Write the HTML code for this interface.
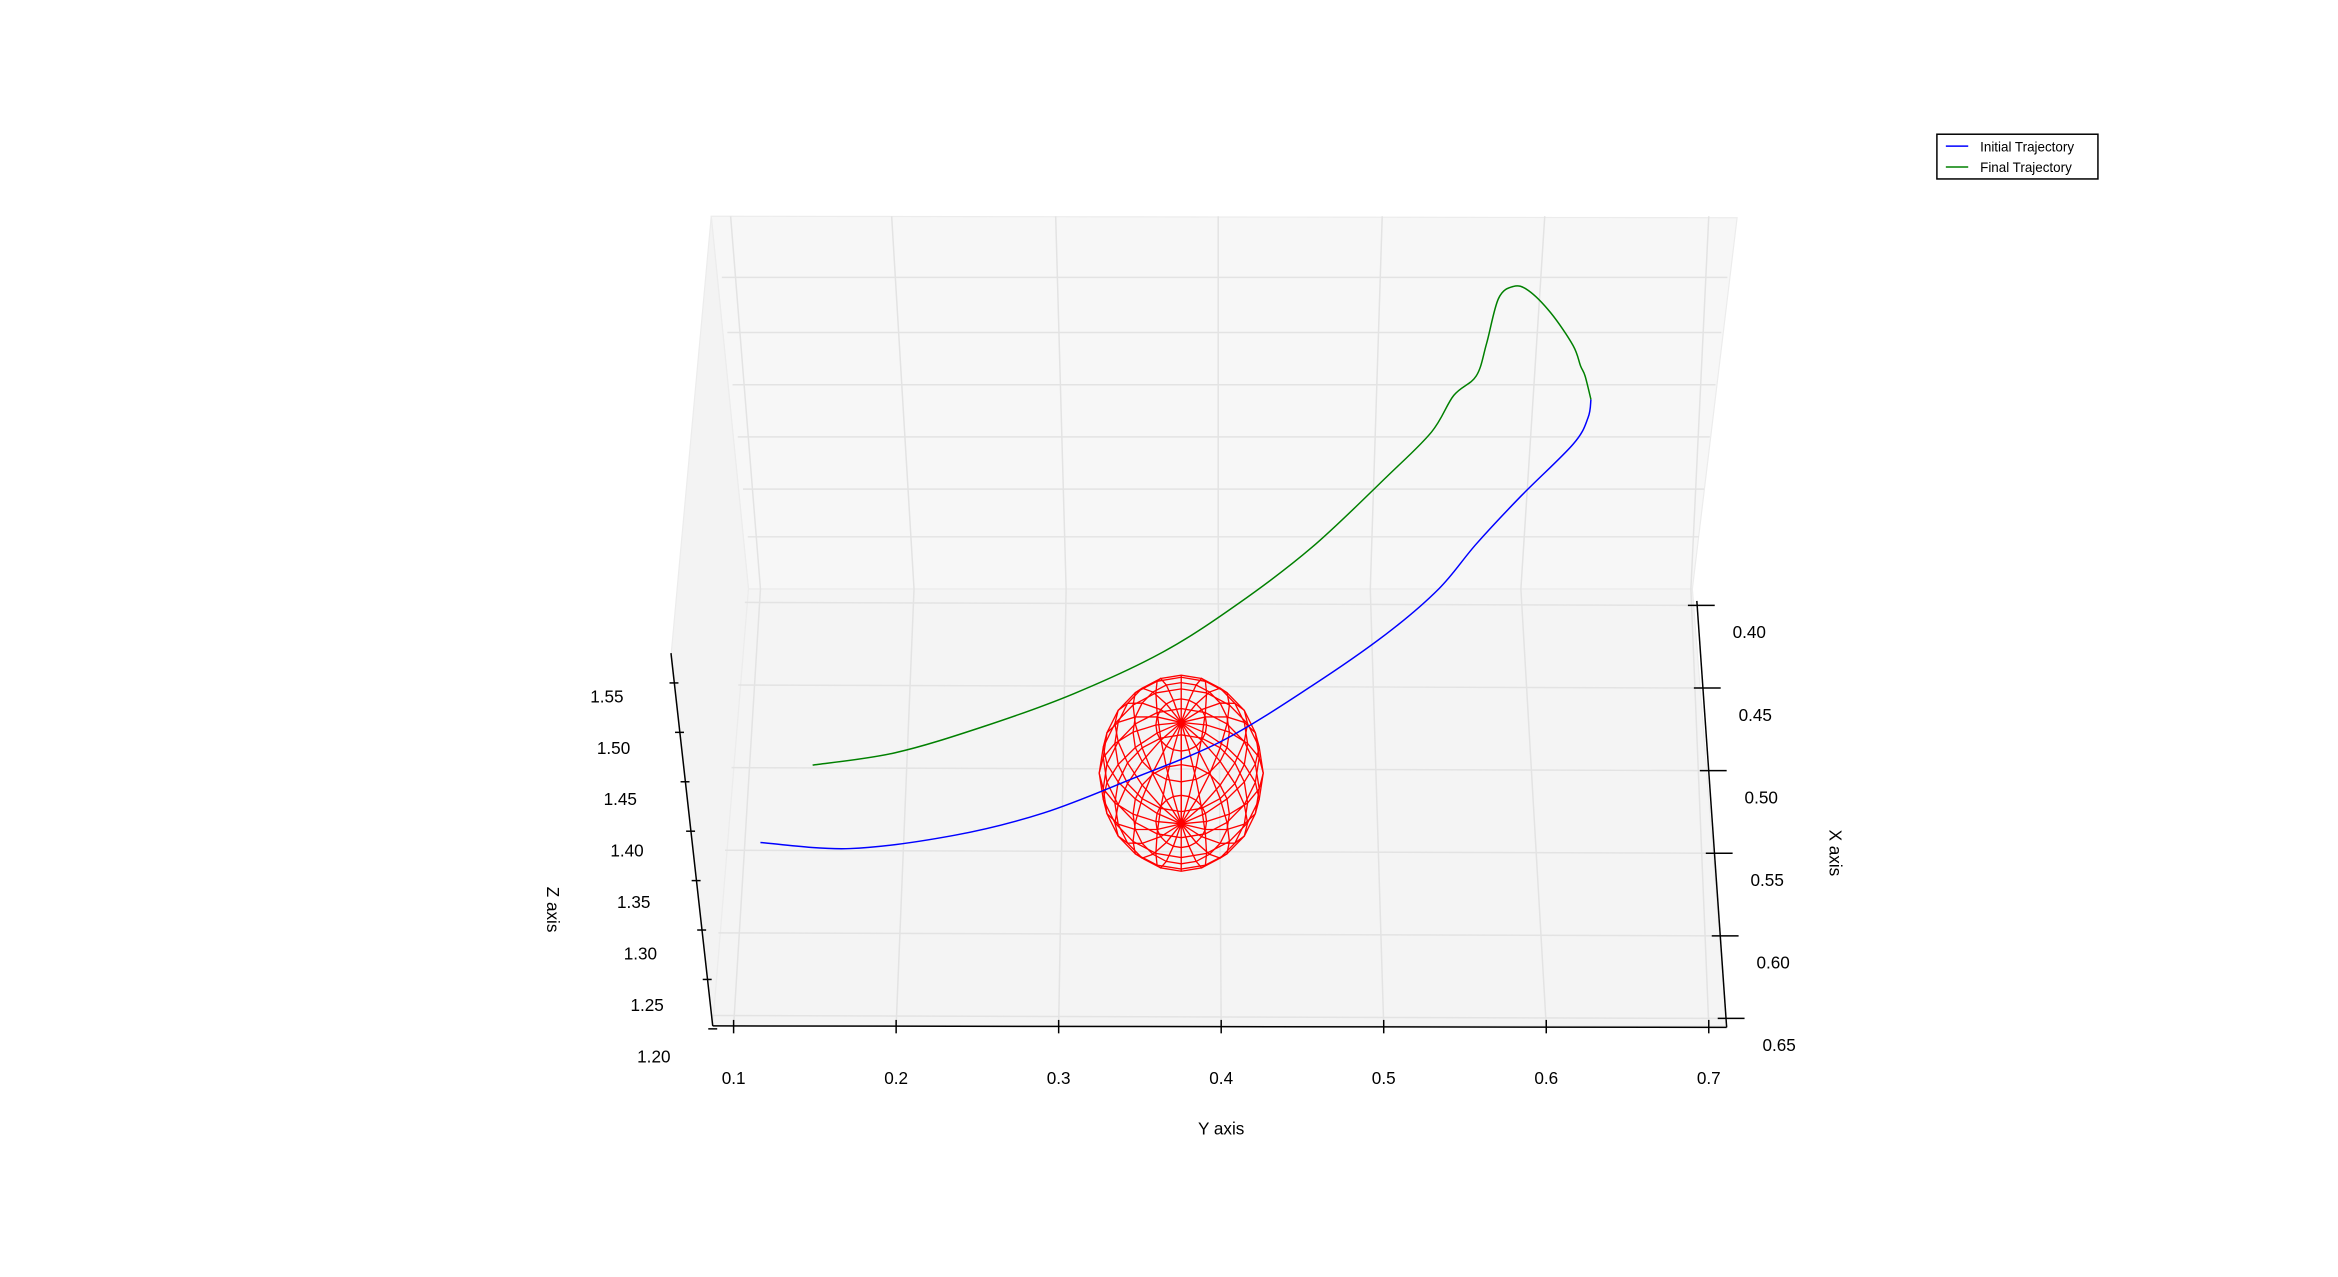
<!DOCTYPE html>
<html><head><meta charset="utf-8"><style>
html,body{margin:0;padding:0;background:#fff;}
svg{display:block;font-family:"Liberation Sans","DejaVu Sans",sans-serif;}
</style></head><body>
<svg id="chart" width="2338" height="1277" viewBox="0 0 1568 856.4" xmlns="http://www.w3.org/2000/svg">
<g id="panes">
<polygon points="477,145 1165,146 1135,395 502,395" fill="#f7f7f7" stroke="#ececec" stroke-width="0.8"/>
<polygon points="477,145 502,395 478,688 450,440" fill="#f3f3f3" stroke="#ececec" stroke-width="0.8"/>
<polygon points="502,395 1135,395 1158,688 478,688" fill="#f4f4f4" stroke="#ececec" stroke-width="0.8"/>
</g>
<g id="grid" stroke="#e3e3e3" stroke-width="1" fill="none"></g>
<g id="axes" stroke="#000" stroke-width="1" fill="none">
<line x1="478" y1="688" x2="1158" y2="689"/>
<line x1="1138" y1="403" x2="1158" y2="689"/>
<line x1="450" y1="438" x2="478" y2="688"/>
</g>
<g id="ticks" font-size="11.5" fill="#000"></g>
<text x="819" y="761" font-size="11.5" text-anchor="middle">Y axis</text>
<text x="1227" y="572" font-size="11.5" text-anchor="middle" transform="rotate(90 1227 572)">X axis</text>
<text x="367" y="610" font-size="11.5" text-anchor="middle" transform="rotate(90 367 610)">Z axis</text>
<g id="sphere" stroke="#ff0000" stroke-width="0.9" fill="none"></g>
<g id="series"></g>
<g>
<rect x="1299" y="90" width="108" height="30" fill="#fff" stroke="#000" stroke-width="1"/>
<line x1="1305" y1="98" x2="1320" y2="98" stroke="#0000ff" stroke-width="1"/>
<text x="1328" y="101.5" font-size="9">Initial Trajectory</text>
<line x1="1305" y1="112" x2="1320" y2="112" stroke="#008000" stroke-width="1"/>
<text x="1328" y="115.5" font-size="9">Final Trajectory</text>
</g>
</svg>
<script>
const yTicks = [0.1,0.2,0.3,0.4,0.5,0.6,0.7];
const yTickLabels = ["0.1","0.2","0.3","0.4","0.5","0.6","0.7"];
const xTicks = [0.40,0.45,0.50,0.55,0.60,0.65];
const xTickLabels = ["0.40","0.45","0.50","0.55","0.60","0.65"];
const zTicks = [1.55,1.50,1.45,1.40,1.35,1.30,1.25,1.20];
const zTickLabels = ["1.55","1.50","1.45","1.40","1.35","1.30","1.25","1.20"];
const initialY = [0.1165,0.1716,0.2358,0.2908,0.3459,0.4009,0.4560,0.5018,0.5339,0.5569,0.5844,0.6165,0.6257,0.6275];
const initialZ = [1.405,1.399,1.412,1.434,1.468,1.505,1.559,1.610,1.654,1.698,1.745,1.796,1.822,1.840];
const finalY = [0.1486,0.1991,0.2541,0.3092,0.3642,0.4101,0.4560,0.5018,0.5294,0.5431,0.5569,0.5633,0.5706,0.5798,0.5890,0.6028,0.6165,0.6211,0.6239,0.6275];
const finalZ = [1.481,1.493,1.519,1.551,1.592,1.639,1.695,1.764,1.808,1.844,1.863,1.895,1.939,1.951,1.947,1.925,1.893,1.873,1.863,1.840];
const sphereCenterY = [0.3754];
const sphereCenterZ = [1.473];

const NS="http://www.w3.org/2000/svg";
function mk(tag,attrs,parent){const e=document.createElementNS(NS,tag);for(const k in attrs)e.setAttribute(k,attrs[k]);parent.appendChild(e);return e;}
function sx(y){return 492+(y-0.1)*1090;}
function sy(z){return 705-(z-1.20)*683;}
function xAxisPos(x){const t=(x-0.40)/0.25;return {x:1138+t*20,y:406+t*277};}
function zAxisPos(z){const t=(1.55-z)/0.35;return {x:452+t*26,y:458+t*232};}

const grid=document.getElementById('grid');
const backTop=[490,598,708,817,927,1036,1146], floorBack=[510,613,715,817,919,1020,1134], floorFront=[492,601,710,819,928,1037,1146];
yTicks.forEach((v,i)=>{
  const l1=mk('polyline',{points:`${backTop[i]},145 ${floorBack[i]},395 ${floorFront[i]},688`},grid);
  
  
});
[186,223,258,293,328,360].forEach(y=>{
  const l=mk('line',{x1:480+(y-145)*0.1,y1:y,x2:1163-(y-145)*0.11,y2:y},grid);
  
  
});
xTicks.forEach((v)=>{
  const p=xAxisPos(v);
  const l=mk('line',{x1:500-(p.y-400)*0.08,y1:p.y-2,x2:p.x,y2:p.y},grid);
  
  
});

const ticks=document.getElementById('ticks');
yTicks.forEach((v,i)=>{
  const x=floorFront[i];
  const t=mk('line',{x1:x,y1:684,x2:x,y2:693,stroke:'#000','stroke-width':1},ticks);
  
  
  const lb=mk('text',{x:x,y:727,'text-anchor':'middle'},ticks);lb.textContent=yTickLabels[i];
  
  
});
xTicks.forEach((v,i)=>{
  const p=xAxisPos(v);
  const t=mk('line',{x1:p.x-6,y1:p.y,x2:p.x+12,y2:p.y,stroke:'#000','stroke-width':1},ticks);
  
  
  const lb=mk('text',{x:p.x+24,y:p.y+22},ticks);lb.textContent=xTickLabels[i];
  
  
});
zTicks.forEach((v,i)=>{
  const p=zAxisPos(v);
  const t=mk('line',{x1:p.x-3,y1:p.y,x2:p.x+3,y2:p.y,stroke:'#000','stroke-width':1},ticks);
  
  
  const lb=mk('text',{x:407+i*4.5,y:471+i*34.5,'text-anchor':'middle'},ticks);lb.textContent=zTickLabels[i];
  
  
});

const sph=document.getElementById('sphere');
const cx=sx(sphereCenterY[0]), cy=sy(sphereCenterZ[0]);
const rx=55, ry=66, tilt=31*Math.PI/180;
function proj(u,v){const X=Math.cos(u)*Math.sin(v),Y=Math.sin(u)*Math.sin(v),Z=Math.cos(v);
  const Yp=Y*Math.cos(tilt)-Z*Math.sin(tilt);return [cx+rx*X, cy+ry*Yp];}
const NU=20,NV=10;
for(let i=0;i<NU;i++){const u=i/NU*2*Math.PI;const pts=[];for(let j=0;j<=NV;j++){const p=proj(u,j/NV*Math.PI);pts.push(p[0].toFixed(1)+','+p[1].toFixed(1));}
  const l=mk('polyline',{points:pts.join(' ')},sph);
  
  }
for(let j=1;j<NV;j++){const v=j/NV*Math.PI;const pts=[];for(let i=0;i<=NU;i++){const p=proj(i/NU*2*Math.PI,v);pts.push(p[0].toFixed(1)+','+p[1].toFixed(1));}
  const l=mk('polyline',{points:pts.join(' ')},sph);
  
  }

const ser=document.getElementById('series');
function line(Ys,Zs,color,name){
  const pts=Ys.map((y,i)=>[sx(y),sy(Zs[i])]);
  let d='M'+pts[0][0]+','+pts[0][1];
  for(let i=1;i<pts.length;i++){const p0=pts[Math.max(i-2,0)],p1=pts[i-1],p2=pts[i],p3=pts[Math.min(i+1,pts.length-1)];
    d+=` C${p1[0]+(p2[0]-p0[0])/6},${p1[1]+(p2[1]-p0[1])/6} ${p2[0]-(p3[0]-p1[0])/6},${p2[1]-(p3[1]-p1[1])/6} ${p2[0]},${p2[1]}`;}
  const e=mk('path',{d:d,stroke:color,'stroke-width':1,fill:'none'},ser);
  
  
}
line(initialY,initialZ,'#0000ff','initial-trajectory-line');
line(finalY,finalZ,'#008000','final-trajectory-line');
</script>
</body></html>
